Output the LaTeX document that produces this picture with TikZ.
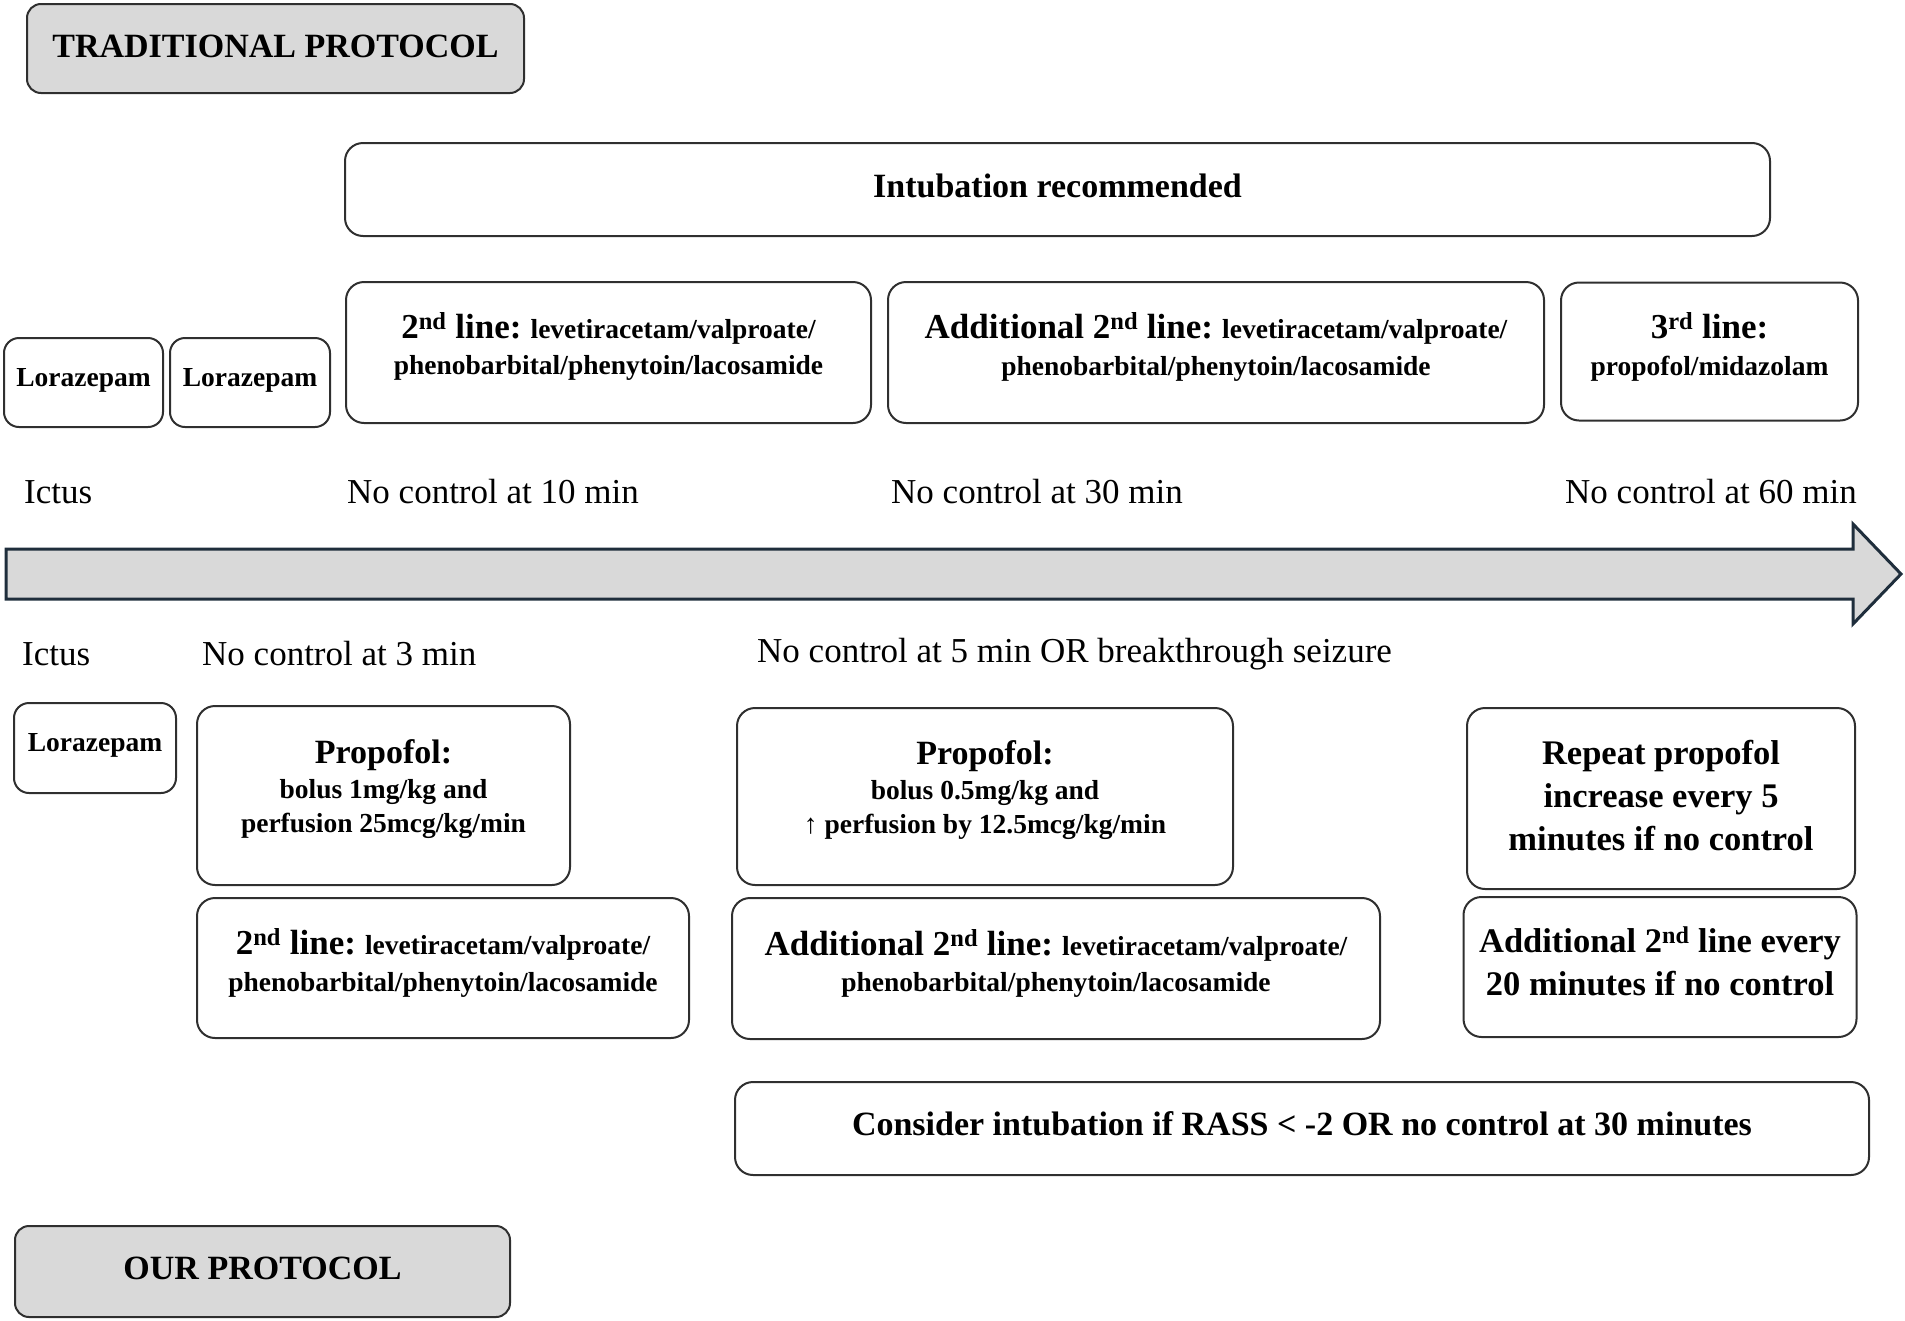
\documentclass[tikz,border=0pt]{standalone}
\usepackage{fontspec}
\setmainfont{Liberation Serif}
\definecolor{hdr}{HTML}{D9D9D9}
\definecolor{edgec}{HTML}{2F2F2F}
\definecolor{navyc}{HTML}{1F2E3C}
\newcommand\LgF{\fontsize{35}{42}\selectfont}
\newcommand\SmF{\fontsize{27.5}{36.5}\selectfont}
\newcommand\SmG{\fontsize{27.5}{34}\selectfont}
\newcommand\MdF{\fontsize{34}{43}\selectfont}
\newcommand\MdG{\fontsize{34.5}{43}\selectfont}
\newcommand\TlF{\fontsize{35}{42}\selectfont}
\newcommand\lift[1]{\rule[-#1]{0pt}{1pt}}
\begin{document}
\begin{tikzpicture}[x=1pt,y=-1pt,
  box/.style={draw=edgec, line width=2pt, rounded corners=18pt, align=center, inner sep=0pt},
  hbox/.style={box, fill=hdr, rounded corners=14pt, font=\bfseries\MdF},
  tl/.style={anchor=west, inner sep=0pt, font=\TlF}]
\useasboundingbox (0,0) rectangle (1905,1320);

% headers
\node[hbox, minimum width=497pt, minimum height=89pt] (trad) at (275.5,48.5) {TRADITIONAL PROTOCOL\lift{5pt}};
\node[hbox, minimum width=495pt, minimum height=91pt] (ours) at (262.5,1271.5) {OUR PROTOCOL\lift{7pt}};

% traditional row
\node[box, font=\bfseries\MdF, minimum width=1425pt, minimum height=93pt] (intub) at (1057.5,189.5) {Intubation recommended\lift{7pt}};
\node[box, font=\bfseries\SmF, rounded corners=15pt, minimum width=159pt, minimum height=89pt] (lor1) at (83.5,382.5) {Lorazepam\lift{11pt}};
\node[box, font=\bfseries\SmF, rounded corners=15pt, minimum width=160pt, minimum height=89pt] (lor2) at (250,382.5) {Lorazepam\lift{11pt}};
\node[box, font=\bfseries\SmF, minimum width=525pt, minimum height=141pt] (sec1) at (608.5,352.5)
  {{\LgF 2\textsuperscript{nd} line:} levetiracetam/valproate/\\phenobarbital/phenytoin/lacosamide\lift{18pt}};
\node[box, font=\bfseries\SmF, minimum width=656pt, minimum height=141pt] (add1) at (1216,352.5)
  {{\LgF Additional 2\textsuperscript{nd} line:} levetiracetam/valproate/\\phenobarbital/phenytoin/lacosamide\lift{17pt}};
\node[box, font=\bfseries\SmF, minimum width=297pt, minimum height=138pt] (third) at (1709.5,351.5)
  {{\LgF 3\textsuperscript{rd} line:}\\propofol/midazolam\lift{15pt}};

% timeline labels (top)
\node[tl] (ictusA) at (24,492) {Ictus};
\node[tl] (nc10) at (347,492) {No control at 10 min};
\node[tl] (nc30) at (891,492) {No control at 30 min};
\node[tl] (nc60) at (1565,492) {No control at 60 min};

% timeline arrow
\draw[fill=hdr, draw=navyc, line width=3pt, line join=miter]
  (6,549) -- (1853,549) -- (1853,524) -- (1901,574) -- (1853,624) -- (1853,599) -- (6,599) -- cycle;

% timeline labels (bottom)
\node[tl] (ictusB) at (22,654) {Ictus};
\node[tl] (nc3) at (202,654) {No control at 3 min};
\node[tl] (nc5) at (757,654) {No control at 5 min OR breakthrough seizure};

% our protocol
\node[box, font=\bfseries\SmF, rounded corners=15pt, minimum width=162pt, minimum height=90pt, text depth=12pt] (lor3) at (95,748) {Lorazepam};
\node[box, font=\bfseries\SmG, minimum width=373pt, minimum height=179pt] (prop1) at (383.5,795.5)
  {{\MdF Propofol:}\\[1pt]bolus 1mg/kg and\\perfusion 25mcg/kg/min\lift{18pt}};
\node[box, font=\bfseries\SmF, minimum width=492pt, minimum height=140pt] (sec2) at (443,968)
  {{\LgF 2\textsuperscript{nd} line:} levetiracetam/valproate/\\phenobarbital/phenytoin/lacosamide\lift{16pt}};
\node[box, font=\bfseries\SmG, minimum width=496pt, minimum height=177pt] (prop2) at (985,796.5)
  {{\MdF Propofol:}\\[1pt]bolus 0.5mg/kg and\\↑ perfusion by 12.5mcg/kg/min\lift{18pt}};
\node[box, font=\bfseries\SmF, minimum width=648pt, minimum height=141pt] (add2) at (1056,968.5)
  {{\LgF Additional 2\textsuperscript{nd} line:} levetiracetam/valproate/\\phenobarbital/phenytoin/lacosamide\lift{16pt}};
\node[box, font=\bfseries\MdG, minimum width=388pt, minimum height=181pt] (rep) at (1661,798.5)
  {Repeat propofol\\increase every 5\\minutes if no control\lift{6pt}};
\node[box, font=\bfseries\MdG, minimum width=393pt, minimum height=140pt] (add3) at (1660,967)
  {Additional 2\textsuperscript{nd} line every\\20 minutes if no control\lift{11pt}};
\node[box, font=\bfseries\MdF, minimum width=1134pt, minimum height=93pt] (cons) at (1302,1128.5)
  {Consider intubation if RASS < -2 OR no control at 30 minutes\lift{10pt}};
\end{tikzpicture}
\end{document}
